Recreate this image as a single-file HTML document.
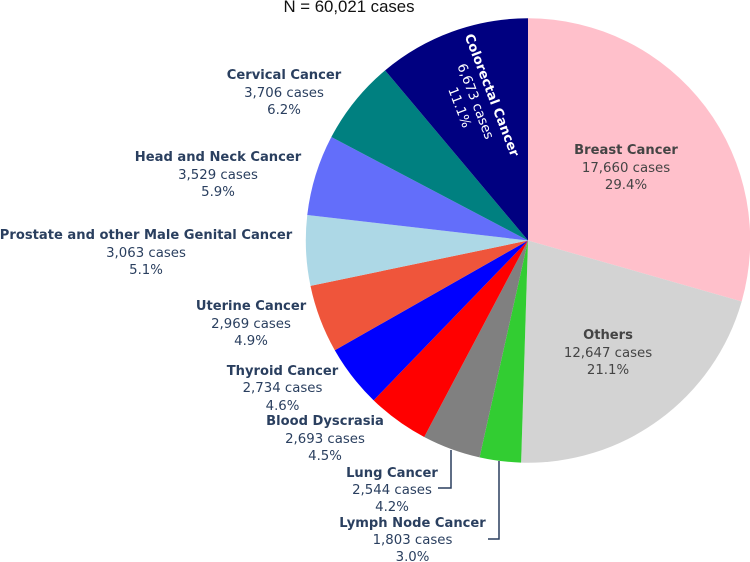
<!DOCTYPE html>
<html lang="en">
<head>
<meta charset="utf-8">
<title>Cancer cases pie chart</title>
<style>
  html, body { margin: 0; padding: 0; background: #fff; overflow: hidden; }
  svg { display: block; }
  .lbl { font-family: "DejaVu Sans", Verdana, sans-serif; font-size: 13.3px; fill: #2a3f5f; text-anchor: middle; }
  .lbl .t { font-weight: bold; font-size: 13.1px; }
  .dark { fill: #444; }
  .light { fill: #fff; }
  .title { font-family: "Liberation Sans", Arial, sans-serif; font-size: 16.8px; fill: #111; text-anchor: middle; }
  .leader { fill: none; stroke: #2a3f5f; stroke-width: 1.5; }
</style>
</head>
<body>
<svg id="chart" width="750" height="562" viewBox="0 0 750 562" xmlns="http://www.w3.org/2000/svg">
  <text class="title" x="349" y="12">N = 60,021 cases</text>
  <g id="slices"></g>

  <path class="leader" d="M451 450V488H438"/>
  <path class="leader" d="M499 461V539H488"/>

  <text class="lbl dark"><tspan class="t" x="626" y="154">Breast Cancer</tspan><tspan x="626" y="172">17,660 cases</tspan><tspan x="626" y="189">29.4%</tspan></text>
  <text class="lbl dark"><tspan class="t" x="608" y="339">Others</tspan><tspan x="608" y="357">12,647 cases</tspan><tspan x="608" y="374">21.1%</tspan></text>
  <text class="lbl"><tspan class="t" x="412.5" y="527">Lymph Node Cancer</tspan><tspan x="412.5" y="544">1,803 cases</tspan><tspan x="412.5" y="561">3.0%</tspan></text>
  <text class="lbl"><tspan class="t" x="392" y="477">Lung Cancer</tspan><tspan x="392" y="494">2,544 cases</tspan><tspan x="392" y="511">4.2%</tspan></text>
  <text class="lbl"><tspan class="t" x="325" y="425">Blood Dyscrasia</tspan><tspan x="325" y="443">2,693 cases</tspan><tspan x="325" y="460">4.5%</tspan></text>
  <text class="lbl"><tspan class="t" x="282.5" y="375">Thyroid Cancer</tspan><tspan x="282.5" y="392">2,734 cases</tspan><tspan x="282.5" y="410">4.6%</tspan></text>
  <text class="lbl"><tspan class="t" x="251" y="310">Uterine Cancer</tspan><tspan x="251" y="328">2,969 cases</tspan><tspan x="251" y="345">4.9%</tspan></text>
  <text class="lbl"><tspan class="t" x="146" y="239">Prostate and other Male Genital Cancer</tspan><tspan x="146" y="257">3,063 cases</tspan><tspan x="146" y="274">5.1%</tspan></text>
  <text class="lbl"><tspan class="t" x="218" y="161">Head and Neck Cancer</tspan><tspan x="218" y="179">3,529 cases</tspan><tspan x="218" y="196">5.9%</tspan></text>
  <text class="lbl"><tspan class="t" x="284" y="79">Cervical Cancer</tspan><tspan x="284" y="97">3,706 cases</tspan><tspan x="284" y="114">6.2%</tspan></text>
  <g transform="translate(492 95) rotate(69)">
    <text class="lbl light"><tspan class="t" x="0" y="4.5">Colorectal Cancer</tspan><tspan x="0" y="22">6,673 cases</tspan><tspan x="0" y="39">11.1%</tspan></text>
  </g>
</svg>
<script>
const categories = ["Breast Cancer", "Others", "Lymph Node Cancer", "Lung Cancer", "Blood Dyscrasia", "Thyroid Cancer", "Uterine Cancer", "Prostate and other Male Genital Cancer", "Head and Neck Cancer", "Cervical Cancer", "Colorectal Cancer"];
const caseCounts = [17660, 12647, 1803, 2544, 2693, 2734, 2969, 3063, 3529, 3706, 6673];
const sliceColors = ["#ffc0cb", "#d3d3d3", "#32cd32", "#808080", "#ff0000", "#0000ff", "#ef553b", "#add8e6", "#636efa", "#008080", "#000080"];

const centerX = 528;
const centerY = 240.5;
const radius = 222.2;
const total = caseCounts.reduce(function (a, b) { return a + b; }, 0);

function angleOf(cumulative) {
  return cumulative / total * Math.PI * 2;
}
function pointAt(angle) {
  return [centerX + radius * Math.sin(angle), centerY - radius * Math.cos(angle)];
}

const layer = document.getElementById("slices");
let running = 0;
caseCounts.forEach(function (value, i) {
  const a0 = angleOf(running);
  running += value;
  const a1 = angleOf(running);
  const p0 = pointAt(a0);
  const p1 = pointAt(a1);
  const large = a1 - a0 > Math.PI ? 1 : 0;
  const slice = document.createElementNS("http://www.w3.org/2000/svg", "path");
  slice.setAttribute("d", "M" + centerX + " " + centerY + "L" + p0[0] + " " + p0[1] + "A" + radius + " " + radius + " 0 " + large + " 1 " + p1[0] + " " + p1[1] + "Z");
  slice.setAttribute("fill", sliceColors[i]);
  
  
  layer.appendChild(slice);
});
</script>
</body>
</html>
